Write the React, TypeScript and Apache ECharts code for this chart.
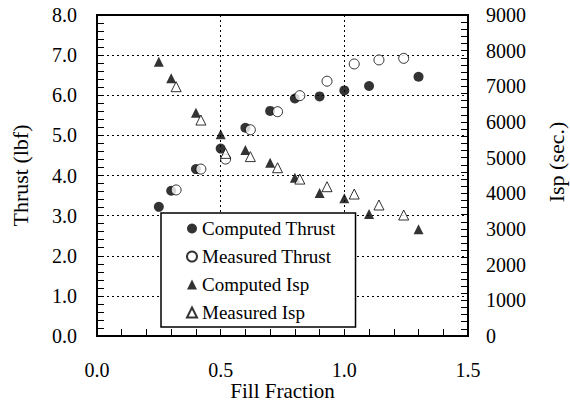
import { useEffect, useRef } from "react";
import * as echarts from "echarts";

// Fill fraction at which each quantity was evaluated
const computedFill = [0.25, 0.3, 0.4, 0.5, 0.6, 0.7, 0.8, 0.9, 1.0, 1.1, 1.3];
const measuredFill = [0.32, 0.42, 0.52, 0.62, 0.73, 0.82, 0.93, 1.04, 1.14, 1.24];

// Thrust (lbf)
const computedThrust = [3.22, 3.62, 4.16, 4.67, 5.19, 5.61, 5.92, 5.97, 6.12, 6.23, 6.46];
const measuredThrust = [3.64, 4.16, 4.41, 5.14, 5.59, 5.99, 6.35, 6.78, 6.88, 6.92];

// Specific impulse (sec.)
const computedIsp = [7690, 7225, 6260, 5655, 5215, 4860, 4440, 4010, 3860, 3420, 2990];
const measuredIsp = [6990, 6055, 5120, 5030, 4718, 4400, 4186, 3980, 3673, 3392];

const seriesNames = ["Computed Thrust", "Measured Thrust", "Computed Isp", "Measured Isp"];

const SERIF = "Liberation Serif";

const pairs = (xs: number[], ys: number[]) => xs.map((x, i) => [x, ys[i]]);

const solid = { color: "#000" };
const hollow = { color: "#fff", borderColor: "#000", borderWidth: 1 };

export default function App() {
  const ref = useRef<HTMLDivElement>(null);

  useEffect(() => {
    if (!ref.current) return;
    const chart = echarts.init(ref.current, undefined, { renderer: "svg" });

    const tickStyle = { color: "#000", width: 1 };
    const axisLine = { show: true, onZero: false, lineStyle: { color: "#000", width: 2 } };
    const grid = { show: true, lineStyle: { color: "#000", width: 1, type: [2, 3] } };

    chart.setOption({
      animation: false,
      backgroundColor: "#fff",
      textStyle: { fontFamily: SERIF, color: "#000" },
      grid: {
        left: 97,
        right: 102,
        top: 15,
        bottom: 67,
        show: true,
        borderColor: "#000",
        borderWidth: 2,
        outerBoundsMode: "none",
        containLabel: false,
      },
      xAxis: {
        type: "value",
        min: 0,
        max: 1.5,
        interval: 0.5,
        name: "Fill Fraction",
        nameLocation: "middle",
        nameGap: 44,
        nameMoveOverlap: false,
        nameTextStyle: { fontSize: 21, color: "#000", fontFamily: SERIF },
        axisLine,
        axisTick: { inside: true, length: 7, lineStyle: tickStyle },
        minorTick: { show: true, splitNumber: 5, length: 7, lineStyle: tickStyle },
        axisLabel: {
          fontSize: 20,
          color: "#000",
          fontFamily: SERIF,
          margin: 24,
          formatter: (v: number) => v.toFixed(1),
        },
        splitLine: grid,
      },
      yAxis: [
        {
          type: "value",
          position: "left",
          min: 0,
          max: 8,
          interval: 1,
          name: "Thrust (lbf)",
          nameLocation: "middle",
          nameGap: 66,
          nameMoveOverlap: false,
          nameTextStyle: { fontSize: 22, color: "#000", fontFamily: SERIF },
          axisLine,
          axisTick: { inside: true, length: 7, lineStyle: tickStyle },
          minorTick: { show: true, splitNumber: 5, length: 7, lineStyle: tickStyle },
          axisLabel: {
            fontSize: 20,
            color: "#000",
            fontFamily: SERIF,
            margin: 20,
            formatter: (v: number) => v.toFixed(1),
          },
          splitLine: grid,
        },
        {
          type: "value",
          position: "right",
          min: 0,
          max: 9000,
          interval: 1000,
          axisLine,
          axisTick: { inside: true, length: 7, lineStyle: tickStyle },
          minorTick: { show: true, splitNumber: 5, length: 7, lineStyle: tickStyle },
          axisLabel: {
            fontSize: 20,
            color: "#000",
            fontFamily: SERIF,
            margin: 18,
            formatter: (v: number) => String(v),
          },
          splitLine: { show: false },
        },
      ],
      legend: {
        orient: "vertical",
        left: 161,
        top: 213,
        backgroundColor: "#fff",
        borderColor: "#000",
        borderWidth: 1.5,
        borderRadius: 0,
        padding: [6, 20, 5, 25],
        itemWidth: 10,
        itemHeight: 10,
        itemGap: 9,
        textStyle: { fontSize: 19, color: "#000", fontFamily: SERIF },
        data: seriesNames,
      },
      graphic: [
        {
          type: "text",
          x: 556,
          y: 162,
          rotation: Math.PI / 2,
          style: {
            text: "Isp (sec.)",
            fontSize: 22,
            fontFamily: SERIF,
            fill: "#000",
            align: "center",
            verticalAlign: "middle",
          },
        },
      ],
      series: [
        {
          name: seriesNames[0],
          type: "scatter",
          yAxisIndex: 0,
          symbol: "circle",
          symbolSize: 10,
          itemStyle: solid,
          data: pairs(computedFill, computedThrust),
        },
        {
          name: seriesNames[1],
          type: "scatter",
          yAxisIndex: 0,
          symbol: "circle",
          symbolSize: 10,
          itemStyle: hollow,
          data: pairs(measuredFill, measuredThrust),
        },
        {
          name: seriesNames[2],
          type: "scatter",
          yAxisIndex: 1,
          symbol: "triangle",
          symbolSize: 10,
          itemStyle: solid,
          data: pairs(computedFill, computedIsp),
        },
        {
          name: seriesNames[3],
          type: "scatter",
          yAxisIndex: 1,
          symbol: "triangle",
          symbolSize: 10,
          itemStyle: hollow,
          data: pairs(measuredFill, measuredIsp),
        },
      ],
    });

    return () => chart.dispose();
  }, []);

  return (
    <div
      ref={ref}
      style={{ position: "fixed", left: 0, top: 0, width: 570, height: 403 }}
    />
  );
}
